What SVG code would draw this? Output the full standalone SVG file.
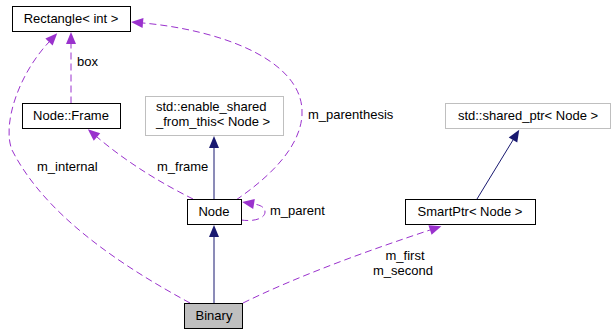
<svg xmlns="http://www.w3.org/2000/svg" width="615" height="335" viewBox="0 0 615 335">
  <style>
    text { font-family: "Liberation Sans", Arial, Helvetica, sans-serif; font-size: 13px; fill: #000; }
    .mid { text-anchor: middle; }
    .box { fill: #fff; stroke: #000; stroke-width: 1; }
    .ext { fill: #fff; stroke: #bfbfbf; stroke-width: 1; }
    .cur { fill: #bfbfbf; stroke: #000; stroke-width: 1; }
    .use { fill: none; stroke: #9a32cd; stroke-width: 1; stroke-dasharray: 7,4; }
    .inh { fill: none; stroke: #191970; stroke-width: 1; }
  </style>
  <defs>
    <marker id="headUse" markerUnits="userSpaceOnUse" markerWidth="12" markerHeight="10" refX="0" refY="5" orient="auto" overflow="visible">
      <path d="M0,0 L12,5 L0,10 Z" fill="#9a32cd" stroke="none"/>
    </marker>
    <marker id="headInh" markerUnits="userSpaceOnUse" markerWidth="12" markerHeight="10" refX="0" refY="5" orient="auto" overflow="visible">
      <path d="M0,0 L12,5 L0,10 Z" fill="#191970" stroke="none"/>
    </marker>
  </defs>

  <g id="connectors">
    <!-- usage relations (dashed) -->
    <path class="use" d="M71,103.5 V44" marker-end="url(#headUse)"/>
    <path class="use" d="M190,303 C 120,265 45,215 12,150 C 2,125 18,75 49,42" marker-end="url(#headUse)"/>
    <path class="use" d="M193,199 C 165,185 130,165 97,137" marker-end="url(#headUse)"/>
    <path class="use" d="M236,200 C 265,180 300,150 302,115 C 305,60 220,30 143,23" marker-end="url(#headUse)"/>
    <path class="use" d="M241,220 C 255,222 265,218 265,212 C 265,207 260,205 254,204" marker-end="url(#headUse)"/>
    <path class="use" d="M243,303 C 300,275 370,250 430,230" marker-end="url(#headUse)"/>
    <!-- inheritance (solid) -->
    <path class="inh" d="M214,199 V148" marker-end="url(#headInh)"/>
    <path class="inh" d="M214,303 V237" marker-end="url(#headInh)"/>
    <path class="inh" d="M477,199 L513,140" marker-end="url(#headInh)"/>
    <!-- edge labels -->
    <text x="77" y="66">box</text>
    <text x="37" y="171">m_internal</text>
    <text x="157" y="171">m_frame</text>
    <text x="308" y="119">m_parenthesis</text>
    <text x="270" y="215">m_parent</text>
    <text x="405" y="260" class="mid">m_first</text>
    <text x="403" y="275" class="mid">m_second</text>
  </g>

  <g id="node-rectangle">
    <rect class="box" x="12.5" y="6.5" width="118" height="25"/>
    <text x="71" y="23" class="mid">Rectangle&lt; int &gt;</text>
  </g>
  <g id="node-frame">
    <rect class="box" x="22.5" y="103.5" width="98" height="25"/>
    <text x="71" y="120" class="mid">Node::Frame</text>
  </g>
  <g id="node-enable-shared">
    <rect class="ext" x="145.5" y="96.5" width="138" height="39"/>
    <text x="156" y="111">std::enable_shared</text>
    <text x="156" y="126">_from_this&lt; Node &gt;</text>
  </g>
  <g id="node-node">
    <rect class="box" x="187.5" y="199.5" width="54" height="25"/>
    <text x="214" y="216" class="mid">Node</text>
  </g>
  <g id="node-binary">
    <rect class="cur" x="184.5" y="303.5" width="58" height="25"/>
    <text x="214" y="320" class="mid">Binary</text>
  </g>
  <g id="node-smartptr">
    <rect class="box" x="405.5" y="199.5" width="130" height="25"/>
    <text x="470" y="216" class="mid">SmartPtr&lt; Node &gt;</text>
  </g>
  <g id="node-shared-ptr">
    <rect class="ext" x="445.5" y="103.5" width="165" height="25"/>
    <text x="528" y="120" class="mid">std::shared_ptr&lt; Node &gt;</text>
  </g>
</svg>
